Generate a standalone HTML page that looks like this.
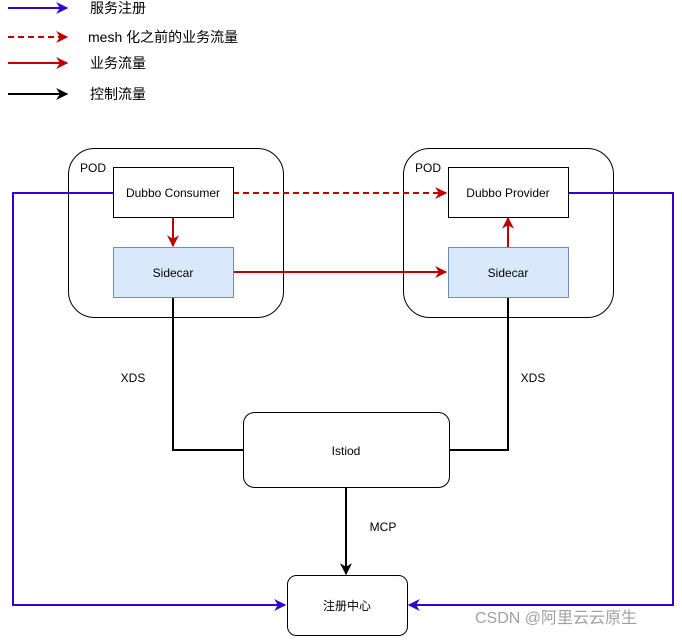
<!DOCTYPE html><html><head><style>body{margin:0;background:#fff}svg text{font-family:"Liberation Sans","Noto Sans CJK SC",sans-serif}</style></head><body>
<svg width="682" height="636" viewBox="0 0 682 636" xmlns="http://www.w3.org/2000/svg">
<defs>
<marker id="r" viewBox="0 0 10 10" refX="9" refY="5" markerWidth="12" markerHeight="12" orient="auto" markerUnits="userSpaceOnUse"><path d="M0,0L10,5L0,10L3,5z" fill="#c00000"/></marker>
<marker id="k" viewBox="0 0 10 10" refX="9" refY="5" markerWidth="12" markerHeight="12" orient="auto" markerUnits="userSpaceOnUse"><path d="M0,0L10,5L0,10L3,5z" fill="#000"/></marker>
<marker id="b2" viewBox="0 0 10 10" refX="9" refY="5" markerWidth="12" markerHeight="12" orient="auto" markerUnits="userSpaceOnUse"><path d="M0,0L10,5L0,10L3,5z" fill="#3300cc"/></marker>
</defs>
<g stroke-width="2" fill="none">
<line x1="8" y1="8" x2="67" y2="8" stroke="#3300cc" marker-end="url(#b2)"/>
<line x1="8" y1="37" x2="67" y2="37" stroke="#c00000" stroke-dasharray="6,4" marker-end="url(#r)"/>
<line x1="8" y1="63" x2="67" y2="63" stroke="#c00000" marker-end="url(#r)"/>
<line x1="8" y1="94" x2="67" y2="94" stroke="#000" marker-end="url(#k)"/>
</g>
<g font-size="14" fill="#000"><text x="90" y="13">服务注册</text><text x="88" y="42">mesh 化之前的业务流量</text><text x="90" y="68">业务流量</text><text x="90" y="99">控制流量</text></g>
<rect x="68.5" y="148.5" width="215" height="169" rx="26" fill="#fff" stroke="#000"/>
<rect x="403.5" y="148.5" width="210" height="169" rx="26" fill="#fff" stroke="#000"/>
<rect x="243.5" y="412.5" width="206" height="75" rx="11" fill="#fff" stroke="#000"/>
<rect x="287.5" y="575.5" width="120" height="60" rx="9" fill="#fff" stroke="#000"/>
<g fill="none" stroke-width="2">
<polyline points="113,193 13,193 13,605 285,605" stroke="#3300cc" marker-end="url(#b2)"/>
<polyline points="568,193 673,193 673,605 409,605" stroke="#3300cc" marker-end="url(#b2)"/>
<polyline points="173,297 173,450 243,450" stroke="#000"/>
<polyline points="508,297 508,450 449,450" stroke="#000"/>
<line x1="346" y1="487" x2="346" y2="574" stroke="#000" marker-end="url(#k)"/>
<line x1="233" y1="193" x2="446" y2="193" stroke="#c00000" stroke-dasharray="6,4" marker-end="url(#r)"/>
<line x1="233" y1="272" x2="446" y2="272" stroke="#c00000" marker-end="url(#r)"/>
<line x1="173" y1="217" x2="173" y2="246" stroke="#c00000" marker-end="url(#r)"/>
<line x1="508" y1="247" x2="508" y2="218" stroke="#c00000" marker-end="url(#r)"/>
</g>
<rect x="113.5" y="167.5" width="120" height="50" fill="#fff" stroke="#000"/>
<rect x="448.5" y="167.5" width="120" height="50" fill="#fff" stroke="#000"/>
<rect x="113.5" y="247.5" width="120" height="50" fill="#dae8fc" stroke="#6c8ebf"/>
<rect x="448.5" y="247.5" width="120" height="50" fill="#dae8fc" stroke="#6c8ebf"/>
<g font-size="12" fill="#000" text-anchor="middle">
<text x="173" y="197">Dubbo Consumer</text><text x="508" y="197">Dubbo Provider</text>
<text x="173" y="277">Sidecar</text><text x="508" y="277">Sidecar</text>
<text x="346" y="455">Istiod</text><text x="347" y="610">注册中心</text>
<text x="133" y="382">XDS</text><text x="533" y="382">XDS</text><text x="383" y="531">MCP</text>
</g>
<g font-size="12" fill="#000"><text x="80" y="172">POD</text><text x="415" y="172">POD</text></g>
<text x="475" y="623" font-size="16" fill="#888" fill-opacity="0.8">CSDN @阿里云云原生</text>
</svg></body></html>
